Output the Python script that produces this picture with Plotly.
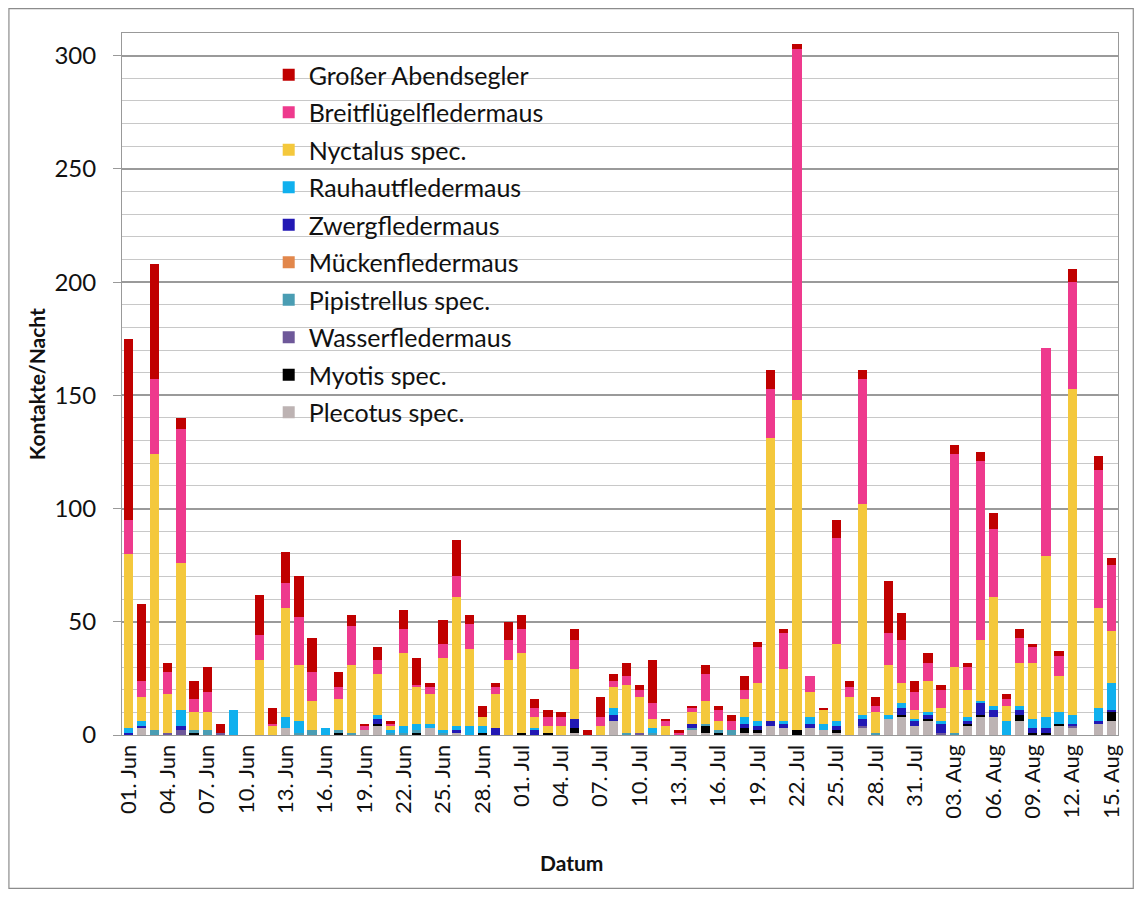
import pandas as pd
import plotly.graph_objects as go

dates = pd.date_range("2013-06-01", "2013-08-15", freq="D")

species = ["Plecotus spec.", "Myotis spec.", "Wasserfledermaus", "Pipistrellus spec.",
           "Mückenfledermaus", "Zwergfledermaus", "Rauhautfledermaus", "Nyctalus spec.",
           "Breitflügelfledermaus", "Großer Abendsegler"]
colors = ["#BDB3B3", "#000000", "#6E5899", "#4A9DB3", "#E2874B", "#2218B4", "#10B0EE",
          "#F4C83C", "#EE3A8D", "#C00000"]

plecotus = [0,3,0,0,0,0,0,0,0,0, 0,0,3,0,0,0,0,0,2,4, 0,0,0,3,0,1,0,0,0,0,
            0,0,0,0,1,0,0,6,0,0, 0,0,0,2,1,0,0,1,1,4, 3,0,3,2,1,0,3,0,7,8,
            4,6,0,0,4,8,8,0,6,0, 0,4,3,0,5,6]
myotis = [0,0,0,0,0,1,0,0,0,0, 0,0,0,0,0,0,1,0,0,1, 0,0,1,0,0,0,0,1,0,0,
          1,0,1,0,2,0,0,0,0,0, 0,0,0,0,3,1,0,2,1,0, 0,2,0,0,1,0,0,0,0,1,
          0,1,0,0,1,1,0,0,3,1, 1,1,0,0,0,4]
wasser = [0,0,0,1,2,0,0,1,0,0, 0,0,0,0,0,0,0,0,0,0, 0,0,0,0,0,0,0,0,0,0,
          0,0,0,0,0,0,0,0,0,1, 0,0,0,0,0,0,0,0,0,0, 0,0,0,0,0,0,1,0,0,0,
          0,0,1,0,0,0,0,0,0,0, 0,0,1,0,0,0]
pipistrellus = [0,0,2,0,0,1,2,0,0,0, 0,0,0,1,2,0,1,1,0,0, 1,1,1,0,1,0,0,0,0,0,
                0,0,0,0,0,0,0,0,1,0, 1,0,0,1,1,1,2,0,0,0, 0,0,0,0,0,0,0,1,0,0,
                0,0,0,1,0,0,0,0,0,0, 0,0,0,0,0,0]
muecken = [0] * 76
zwerg = [1,1,0,0,2,0,0,0,0,0, 0,0,0,0,0,0,0,0,0,2, 0,0,0,0,0,1,0,0,3,0,
         0,2,0,0,4,0,0,3,0,0, 0,0,0,2,0,0,0,2,2,2, 2,0,2,0,2,0,3,0,0,3,
         2,2,4,0,1,5,3,0,2,2, 2,0,1,0,1,1]
rauhaut = [2,2,0,0,7,0,0,0,11,0, 0,0,5,5,0,3,0,0,0,2, 1,3,3,2,1,2,4,3,0,0,
           0,1,0,0,0,0,0,3,0,0, 2,0,0,0,0,0,0,3,2,0, 1,0,3,3,2,0,2,0,2,2,
           1,1,1,0,2,1,2,6,2,4, 5,5,4,0,6,12]
nyctalus = [77,11,122,17,65,8,8,0,0,0, 33,4,48,25,13,0,14,30,0,18, 2,32,16,13,32,57,34,4,15,33,
            35,5,3,4,22,0,4,9,21,16, 4,4,0,5,10,4,0,8,17,125, 23,146,11,6,34,17,93,9,22,9,
            4,14,6,29,12,27,48,7,19,25, 71,16,144,0,44,23]
breit = [15,7,33,10,59,6,9,0,0,0, 11,1,11,21,13,0,5,17,2,6, 1,11,1,3,6,9,11,0,3,9,
         11,4,4,4,13,0,4,3,4,3, 7,2,1,2,12,5,4,4,16,22, 16,155,7,0,47,4,55,3,14,19,
         8,8,8,94,10,79,30,3,11,7, 92,9,47,0,61,29]
grosser = [80,34,51,4,5,8,11,4,0,0, 18,7,14,18,15,0,7,5,1,6, 1,8,12,2,11,16,4,5,2,8,
           6,4,3,2,5,2,9,3,6,2, 19,1,1,1,4,2,3,6,2,8, 2,2,0,1,8,3,4,4,23,12,
           5,4,2,4,2,4,7,2,4,1, 0,2,6,0,6,3]

series = [plecotus, myotis, wasser, pipistrellus, muecken, zwerg, rauhaut, nyctalus, breit, grosser]

fig = go.Figure()
n = len(species)
for i, (name, vals, col) in enumerate(zip(species, series, colors)):
    fig.add_trace(go.Bar(x=dates, y=vals, name=name, marker_color=col,
                         marker_line_width=0, legendgroup=f"g{i}",
                         legendrank=100 + (n - i)))

# page (screenshot) coordinates of the plot area; the page body adds an 8px offset
OFF = 8
PL, PR, PT, PB = 122, 1120, 33, 735
W, H = 1144 - 2 * OFF, 897 - 2 * OFF
L, T = PL - OFF, PT - OFF
R, B = W - (PR - OFF), H - (PB - OFF)

def px(x):
    return (x - PL) / (PR - PL)

def py(y):
    return (PB - y) / (PB - PT)

font = "Lato, 'Open Sans', sans-serif"
fig.update_layout(
    width=W, height=H,
    margin=dict(l=L, r=R, t=T, b=B),
    barmode="stack", bargap=0.3,
    paper_bgcolor="white", plot_bgcolor="white",
    font=dict(family=font, color="#111111"),
    showlegend=True,
    legend=dict(x=px(269), y=py(52), xanchor="left", yanchor="top",
                bgcolor="rgba(0,0,0,0)", traceorder="grouped",
                tracegroupgap=2, font=dict(size=25, family=font, color="#111111")),
    xaxis=dict(type="date", tick0="2013-06-01", dtick=3 * 86400000,
               tickformat="%d. %b", tickangle=-90, tickfont=dict(size=22),
               range=["2013-05-31 12:00", "2013-08-15 12:00"],
               showline=True, linecolor="#999999", mirror=True, showgrid=False,
               ticks=""),
    yaxis=dict(range=[0, 310], tick0=0, dtick=50, tickfont=dict(size=24),
               showline=True, linecolor="#999999", mirror=True,
               showgrid=True, gridcolor="#9a9a9a", gridwidth=1.5,
               ticks="outside", ticklen=8, tickcolor="#999999",
               ticklabelstandoff=12, zeroline=False,
               minor=dict(dtick=10, showgrid=True, gridcolor="#c8c8c8", gridwidth=1.3)),
    shapes=[
        dict(type="rect", xref="paper", yref="paper", x0=px(8.7), x1=px(1135.3),
             y0=py(888.3), y1=py(8.7),
             line=dict(color="#8c8c8c", width=1.2), fillcolor="rgba(0,0,0,0)", layer="above"),
        dict(type="rect", xref="paper", yref="paper", x0=px(240), x1=px(578), y0=py(440), y1=py(45),
             line=dict(width=0), fillcolor="white", layer="between"),
    ],
    annotations=[
        dict(text="<b>Kontakte/Nacht</b>", xref="paper", yref="paper", x=px(36), y=py(384),
             xanchor="center", yanchor="middle",
             textangle=-90, showarrow=False, font=dict(size=21, family=font)),
        dict(text="<b>Datum</b>", xref="paper", yref="paper", x=px(572), y=py(862),
             xanchor="center", yanchor="middle",
             showarrow=False, font=dict(size=21, family=font)),
    ],
)

fig.write_html("out.html")
